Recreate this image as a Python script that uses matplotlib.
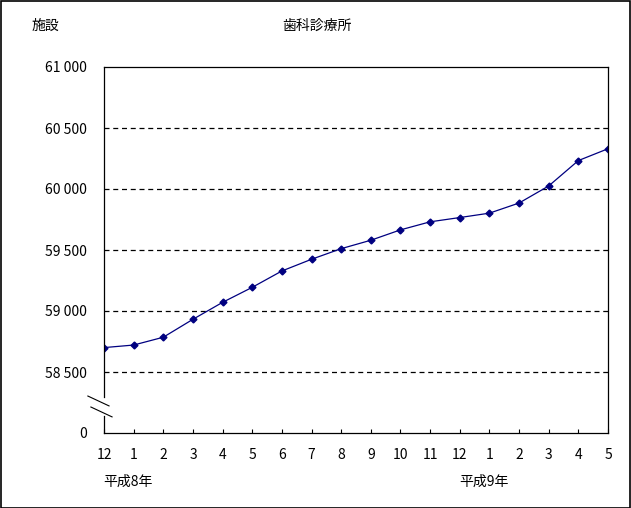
import matplotlib
matplotlib.use('Agg')
import matplotlib.pyplot as plt
from matplotlib.lines import Line2D
from matplotlib.patches import Rectangle

plt.rcParams['font.family'] = ['Noto Sans CJK JP', 'DejaVu Sans']

months = ['12', '1', '2', '3', '4', '5', '6', '7', '8', '9', '10', '11',
          '12', '1', '2', '3', '4', '5']
counts = [58700, 58721, 58785, 58932, 59071, 59194, 59328, 59424, 59511,
          59580, 59665, 59731, 59766, 59802, 59885, 60025, 60233, 60330]
ytick_vals = [58000, 58500, 59000, 59500, 60000, 60500, 61000]
ytick_labels = ['0', '58 500', '59 000', '59 500', '60 000', '60 500', '61 000']

W, H = 631, 508
fig = plt.figure(figsize=(W / 100, H / 100), dpi=100)
ax = fig.add_axes([104 / W, 1 - 433 / H, 504 / W, 366 / H])

x = list(range(len(months)))
ax.plot(x, counts, color='#000080', lw=0.9, marker='D', ms=3.5,
        markerfacecolor='#000080', markeredgecolor='#000080')

ax.set_xlim(0, len(months) - 1)
ax.set_ylim(58000, 61000)
ax.set_xticks(x)
ax.set_xticklabels(months, fontsize=10)
ax.set_yticks(ytick_vals)
ax.set_yticklabels(ytick_labels, fontsize=10)
ax.tick_params(axis='x', direction='in', length=3, width=0.8, pad=11)
ax.tick_params(axis='y', length=0, pad=12)

for v in ytick_vals[1:-1]:
    ax.axhline(v, color='black', lw=0.9, ls=(0, (4, 3)), zorder=0)

for s in ax.spines.values():
    s.set_linewidth(0.9)
ax.spines['left'].set_visible(False)

# left axis with a break near the bottom
ax.add_line(Line2D([0, 0], [0.0985, 1], transform=ax.transAxes, color='black',
                   lw=0.9, clip_on=False))
ax.add_line(Line2D([0, 0], [0, 0.047], transform=ax.transAxes, color='black',
                   lw=0.9, clip_on=False))
ax.add_line(Line2D([-0.032, 0.010], [0.101, 0.074], transform=ax.transAxes,
                   color='black', lw=0.8, clip_on=False))
ax.add_line(Line2D([-0.026, 0.016], [0.071, 0.044], transform=ax.transAxes,
                   color='black', lw=0.8, clip_on=False))

fig.text(32 / W, 1 - 26 / H, '施設', fontsize=10, va='center', ha='left')
fig.text(317 / W, 1 - 26 / H, '歯科診療所', fontsize=10, va='center', ha='center')
fig.text(103 / W, 1 - 482 / H, '平成8年', fontsize=10, va='center', ha='left')
fig.text(459 / W, 1 - 482 / H, '平成9年', fontsize=10, va='center', ha='left')

fig.patches.append(Rectangle((0.5 / W, 0.5 / H), 1 - 1.5 / W, 1 - 1.5 / H,
                             transform=fig.transFigure, fill=False,
                             edgecolor='black', lw=1.2))

fig.savefig('out.png', dpi=100)
